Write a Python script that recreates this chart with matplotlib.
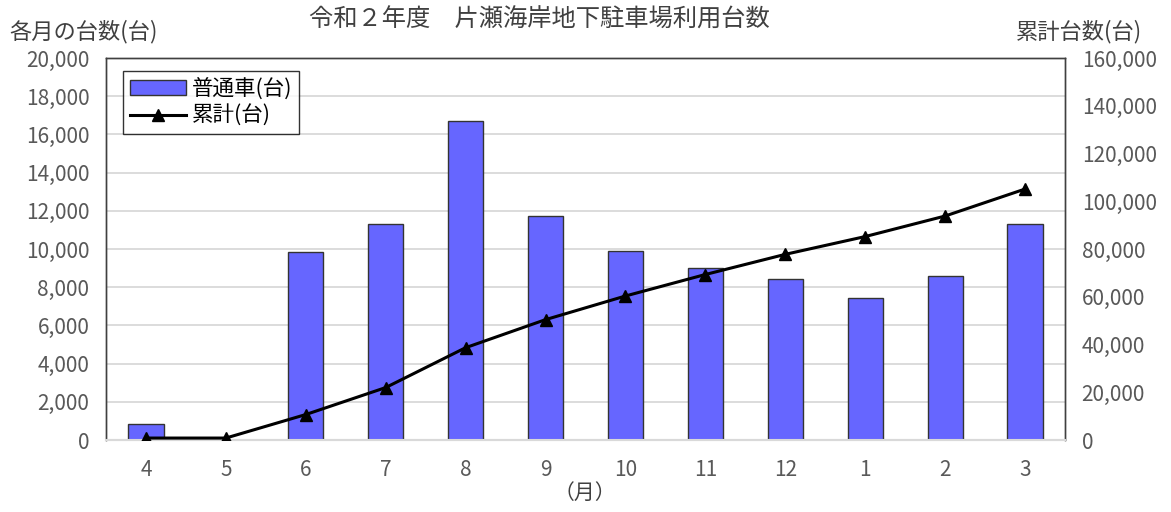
import matplotlib
matplotlib.use('Agg')
import matplotlib.pyplot as plt
from matplotlib.ticker import FuncFormatter

plt.rcParams['font.family'] = ['Noto Sans CJK JP', 'DejaVu Sans']

# data
months = ['4', '5', '6', '7', '8', '9', '10', '11', '12', '1', '2', '3']
monthly = [820, 0, 9850, 11300, 16700, 11750, 9900, 9000, 8450, 7450, 8600, 11300]
cumulative = [820, 820, 10670, 21970, 38670, 50420, 60320, 69320, 77770, 85220, 93820, 105120]

TICK_COLOR = '#595959'
x = list(range(len(months)))

fig = plt.figure(figsize=(11.71, 5.12), dpi=100)
ax = fig.add_axes([0.0905, 0.1406, 0.819, 0.7461])
ax2 = ax.twinx()

# bars + grid on the left axis, line on top from the right axis
ax.set_zorder(0)
ax2.set_zorder(1)
ax2.patch.set_visible(False)

bars = ax.bar(x, monthly, width=0.44, color='#6666FF', edgecolor='#333333',
              linewidth=1.0, label='普通車(台)', zorder=3)
line, = ax2.plot(x, cumulative, color='black', lw=2.2, marker='^',
                 markersize=9, label='累計(台)', zorder=4)

ax.set_xlim(-0.5, len(months) - 0.5)
ax.set_ylim(0, 20000)
ax2.set_ylim(0, 160000)
ax.set_yticks(range(0, 20001, 2000))
ax2.set_yticks(range(0, 160001, 20000))

fmt = FuncFormatter(lambda v, p: f'{int(v):,}')
ax.yaxis.set_major_formatter(fmt)
ax2.yaxis.set_major_formatter(fmt)

ax.set_xticks(x)
ax.set_xticklabels(months)

ax.yaxis.grid(True, color='#d9d9d9', lw=1.3, zorder=0)
ax.set_axisbelow(True)

for a in (ax, ax2):
    a.tick_params(length=0, labelsize=15, colors=TICK_COLOR)
    for s in a.spines.values():
        s.set_color('#404040')
        s.set_linewidth(1.0)
ax.tick_params(axis='x', pad=14)
ax.tick_params(axis='y', pad=12)
ax2.tick_params(axis='y', pad=12)
for a in (ax, ax2):
    a.spines['bottom'].set_color('#d9d9d9')
    a.spines['bottom'].set_linewidth(1.5)

leg = ax2.legend(handles=[bars, line], loc='upper left',
                 bbox_to_anchor=(0.018, 0.966), borderaxespad=0,
                 fontsize=15.5, frameon=True,
                 fancybox=False, edgecolor='black', handlelength=2.6,
                 borderpad=0.3, labelspacing=0.25, handletextpad=0.3)
leg.get_frame().set_linewidth(1.0)

fig.text(539 / 1171, 1 - 20 / 512, '令和２年度　片瀬海岸地下駐車場利用台数',
         ha='center', va='center', fontsize=17.5, color='#404040')
fig.text(84 / 1171, 1 - 32 / 512, '各月の台数(台)', ha='center', va='center',
         fontsize=16, color='#404040')
fig.text(1079 / 1171, 1 - 32 / 512, '累計台数(台)', ha='center', va='center',
         fontsize=16, color='#404040')
fig.text(585 / 1171, 1 - 493 / 512, '（月）', ha='center', va='center',
         fontsize=15, color='#404040')

fig.savefig('out.png', dpi=100)
